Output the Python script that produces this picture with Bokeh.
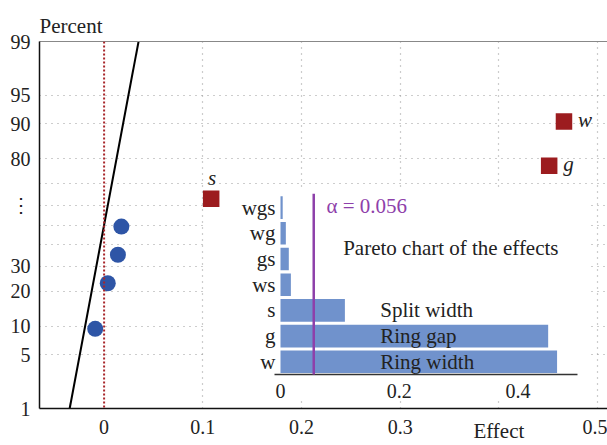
from statistics import NormalDist
from bokeh.plotting import figure
from bokeh.models import Range1d, FixedTicker, LinearAxis, Span
from bokeh.core.properties import value
from bokeh.embed import file_html
from bokeh.resources import INLINE

nd = NormalDist()


def zq(pct):
    return nd.inv_cdf(pct / 100.0)


# ---------------- data ----------------
effect_names = ["wg", "wgs", "gs", "ws", "s", "g", "w"]
effect_values = [-0.009, 0.0037, 0.014, 0.0175, 0.1085, 0.451, 0.466]
effect_percent = [9.4, 23.0, 35.3, 49.2, 63.0, 77.35, 90.5]
significant = ["s", "g", "w"]

pareto_names = ["w", "g", "s", "ws", "gs", "wg", "wgs"]  # bottom to top
bar_labels = {"w": "Ring width", "g": "Ring gap", "s": "Split width"}
alpha_value = 0.056

line_mu = 0.0
line_sigma = 0.015

y_tick_pcts = [1, 5, 10, 20, 30, 60, 80, 90, 95, 99]
y_tick_labels = ["1", "5", "10", "20", "30", "\u22ee", "80", "90", "95", "99"]
y_grid_pcts = [5, 10, 20, 30, 40, 50, 60, 70, 80, 90, 95]
x_ticks = [0, 0.1, 0.2, 0.3, 0.5]
x_tick_labels = ["0", "0.1", "0.2", "0.3", "0.5"]
x_grid = [0.1, 0.2, 0.3, 0.4, 0.5]
pareto_ticks = [0, 0.2, 0.4]
pareto_tick_labels = ["0", "0.2", "0.4"]

# ---------------- styles ----------------
FONT = "Liberation Serif"
TXT = "#222222"
BLUE = "#2E55A6"
RED = "#9C1C1F"
BAR = "#7092CC"
PURPLE = "#8E40AA"

p = figure(width=607, height=445,
           x_range=Range1d(-0.06546, 0.5101),
           y_range=Range1d(zq(1), zq(99)),
           output_backend="svg", toolbar_location=None,
           min_border_left=39, min_border_right=0,
           min_border_top=41, min_border_bottom=37)
p.outline_line_color = None
p.background_fill_color = "white"
p.border_fill_color = "white"

# title used as the y-axis caption
p.title.text = "Percent"
p.title.align = "left"
p.title.text_font = FONT
p.title.text_font_size = "21px"
p.title.text_font_style = "normal"
p.title.text_color = TXT
p.title.offset = 0
p.title.standoff = 8

# axes
xa = p.xaxis[0]
xa.ticker = FixedTicker(ticks=x_ticks)
xa.major_label_overrides = {t: l for t, l in zip(x_ticks, x_tick_labels)}
ya = p.yaxis[0]
y_ticks = [zq(v) for v in y_tick_pcts]
ya.ticker = FixedTicker(ticks=y_ticks)
ya.major_label_overrides = {t: l for t, l in zip(y_ticks, y_tick_labels)}
for ax in (xa, ya):
    ax.major_tick_in = 0
    ax.major_tick_out = 0
    ax.minor_tick_in = 0
    ax.minor_tick_out = 0
    ax.axis_line_color = "#111111"
    ax.axis_line_width = 1.5
    ax.major_label_text_font = FONT
    ax.major_label_text_font_size = "20px"
    ax.major_label_text_color = TXT
xa.major_label_standoff = 11
ya.major_label_standoff = 9

# x-axis caption, shifted to the right under the 0.4 position
xa.axis_label = "\u2003" * 16 + "\u2002\u2009" + "Effect"
xa.axis_label_text_font = FONT
xa.axis_label_text_font_size = "21px"
xa.axis_label_text_font_style = "normal"
xa.axis_label_text_color = TXT
xa.axis_label_standoff = -18

top_ax = LinearAxis(ticker=FixedTicker(ticks=[]), axis_line_color="#888888",
                    axis_line_width=1.2, major_tick_in=0, major_tick_out=0,
                    minor_tick_in=0, minor_tick_out=0,
                    major_label_text_font_size="0px")
p.add_layout(top_ax, "above")

p.xgrid.ticker = FixedTicker(ticks=x_grid)
p.ygrid.ticker = FixedTicker(ticks=[zq(v) for v in y_grid_pcts])
for g in (p.xgrid[0], p.ygrid[0]):
    g.grid_line_color = "#9a9a9a"
    g.grid_line_dash = "1 5"
    g.grid_line_width = 1.2

# ---------------- inset (Pareto chart) ----------------
p.extra_x_ranges = {"ix": Range1d(-0.40607, 0.55097)}
p.extra_y_ranges = {"iy": Range1d(-1.817, 12.463)}
IR = dict(x_range_name="ix", y_range_name="iy")

p.quad(left=-0.128, right=0.522, bottom=-1.51, top=6.74,
       fill_color="white", line_color=None, **IR)

pareto_abs = [abs(effect_values[effect_names.index(n)]) for n in pareto_names]
pareto_k = list(range(len(pareto_names)))
axis_k = -0.494

p.hbar(y=pareto_k, left=0, right=pareto_abs, height=0.88,
       fill_color=BAR, line_color=None, **IR)

p.text(x=-0.0084, y=pareto_k, text=pareto_names, text_align="right",
       text_baseline="middle", text_font=value(FONT), text_font_size="21px",
       text_color=TXT, **IR)

lbl_names = [n for n in pareto_names if n in bar_labels]
p.text(x=0.168, y=[pareto_names.index(n) for n in lbl_names],
       text=[bar_labels[n] for n in lbl_names], text_align="left",
       text_baseline="middle", text_font=value(FONT), text_font_size="21px",
       text_color=TXT, **IR)

p.segment(x0=-0.0101, y0=axis_k, x1=0.5004, y1=axis_k,
          line_color="#333333", line_width=1.5, **IR)
p.text(x=pareto_ticks, y=-1.155, text=pareto_tick_labels, text_align="center",
       text_baseline="middle", text_font=value(FONT), text_font_size="20px",
       text_color=TXT, **IR)

p.segment(x0=alpha_value, y0=axis_k, x1=alpha_value, y1=6.54,
          line_color=PURPLE, line_width=2.5, **IR)
p.text(x=[0.0775], y=[6.08], text=[f"\u03b1 = {alpha_value:.3f}"],
       text_align="left", text_baseline="middle", text_font=value(FONT),
       text_font_size="21px", text_color=PURPLE, **IR)

p.text(x=[0.1056], y=[4.447], text=["Pareto chart of the effects"],
       text_align="left", text_baseline="middle", text_font=value(FONT),
       text_font_size="21px", text_color=TXT, **IR)

# ---------------- normal probability plot ----------------
p.add_layout(Span(location=0, dimension="height", line_color="#A8262B",
                  line_dash="2 2", line_width=2))

zl = [zq(1), zq(99)]
p.line(x=[line_mu + line_sigma * z for z in zl], y=zl,
       line_color="black", line_width=2)

nx = [x for n, x in zip(effect_names, effect_values) if n not in significant]
ny = [zq(v) for n, v in zip(effect_names, effect_percent) if n not in significant]
p.scatter(x=nx, y=ny, marker="circle", size=16, fill_color=BLUE, line_color=None)

sx = [x for n, x in zip(effect_names, effect_values) if n in significant]
sy = [zq(v) for n, v in zip(effect_names, effect_percent) if n in significant]
sn = [n for n in effect_names if n in significant]
p.scatter(x=sx, y=sy, marker="square", size=16.5, fill_color=RED, line_color=None)

# labels of significant effects: s above, g and w to the right
p.text(x=[sx[0]], y=[sy[0]], text=[sn[0]], text_align="center",
       text_baseline="middle", y_offset=-21, x_offset=1,
       text_font=value(FONT), text_font_style="italic", text_font_size="21px",
       text_color=TXT)
p.text(x=sx[1:], y=sy[1:], text=sn[1:], text_align="left",
       text_baseline="middle", y_offset=-2, x_offset=14,
       text_font=value(FONT), text_font_style="italic", text_font_size="21px",
       text_color=TXT)

open("out.html", "w").write(file_html(p, INLINE))
